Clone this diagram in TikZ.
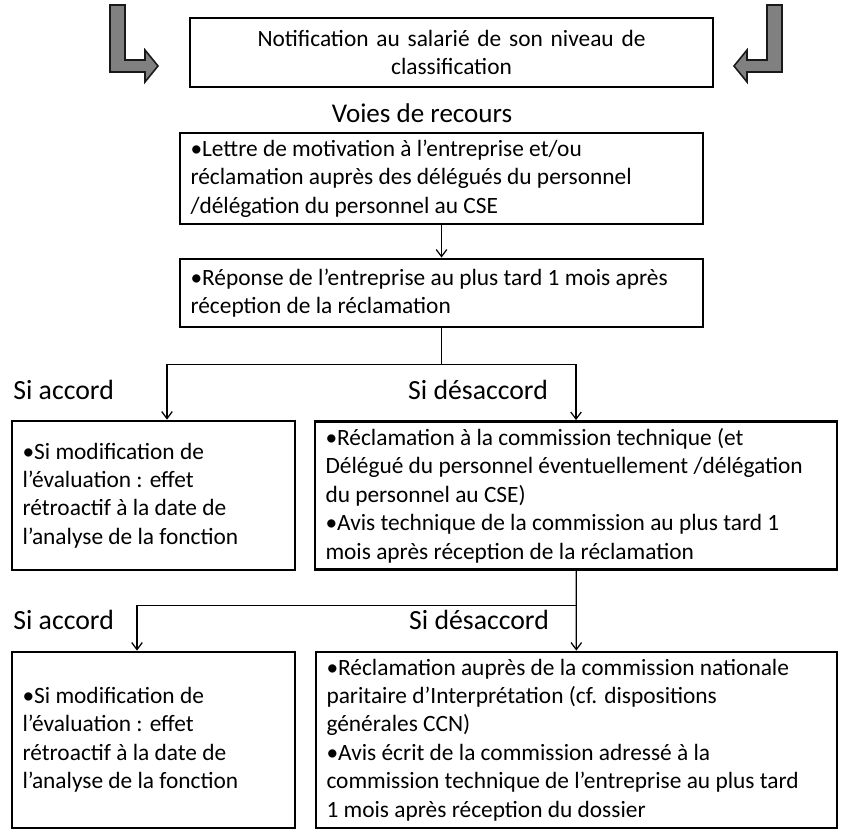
\documentclass[tikz,border=0pt]{standalone}
\usepackage{fontspec}
\setmainfont{Carlito}
\usepackage{tikz}
\usetikzlibrary{arrows.meta, positioning, calc}

\tikzset{
  stepbox/.style={draw, line width=1.6pt, inner xsep=0.21cm, inner ysep=0pt, align=flush left,
    font=\fontsize{13.3}{16.2}\selectfont},
  branch/.style={inner sep=0pt, font=\fontsize{15.8}{18}\selectfont},
  link/.style={line width=0.7pt, -{Straight Barb[length=4pt,width=6pt]}},
  blockarrow/.style={fill=black!50, draw=black!90, line width=0.9pt}
}

\begin{document}
\begin{tikzpicture}
 \useasboundingbox (0,0) rectangle (16.86,-16.64);
 \foreach \X/\S in {2.2/1,15.64/-1}
   \filldraw[blockarrow] (\X,-0.1) -- ++({0.3*\S},0) -- ++(0,-1.1) -- ++({0.4*\S},0) -- ++(0,0.2)
     -- ++({0.26*\S},-0.32) -- ++({-0.26*\S},-0.32) -- ++(0,0.2) -- ++({-0.7*\S},0) -- cycle;
 \node[stepbox, align=center, text width=10.04cm, minimum height=1.38cm] (notif) at (9.03,-1.05)
   {Notification au salarié de son niveau de\\classification};
 \node[branch, font=\fontsize{15.4}{18}\selectfont] (voies) at (8.44,-2.26) {Voies de recours};
 \node[stepbox, text width=10.04cm, minimum height=1.82cm] (lettre) at (8.83,-3.57)
   {•Lettre de motivation  à l’entreprise et/ou\\réclamation auprès des délégués du personnel\\/délégation du personnel au CSE};
 \node[stepbox, text width=10.04cm, minimum height=1.36cm] (reponse) at (8.83,-5.86)
   {•Réponse de l’entreprise au plus tard 1 mois après\\réception de la réclamation};
 \node[stepbox, text width=5.24cm, minimum height=2.98cm] (accordA) at (3.07,-9.91)
   {•Si modification  de\\l’évaluation : effet\\rétroactif à la date de\\l’analyse de la fonction};
 \node[stepbox, text width=10.02cm, minimum height=2.96cm] (desaccordA) at (11.52,-9.91)
   {•Réclamation à la commission  technique (et\\Délégué du personnel éventuellement /délégation\\du personnel au CSE)\\•Avis technique de la commission  au plus tard 1\\mois après réception de la réclamation};
 \node[stepbox, text width=5.24cm, minimum height=3.52cm] (accordB) at (3.07,-14.80)
   {•Si modification  de\\l’évaluation : effet\\rétroactif à la date de\\l’analyse de la fonction};
 \node[stepbox, text width=10.00cm, minimum height=3.52cm] (desaccordB) at (11.53,-14.80)
   {•Réclamation auprès de la commission  nationale\\paritaire d’Interprétation (cf. dispositions\\générales CCN)\\•Avis écrit de la commission  adressé à la\\commission  technique de l’entreprise au plus tard\\1 mois après réception du dossier};
 \node[branch, anchor=west] (oui1) at (0.26,-7.80) {Si accord};
 \node[branch] (non1) at (9.56,-7.80) {Si désaccord};
 \node[branch, anchor=west] (oui2) at (0.26,-12.40) {Si accord};
 \node[branch] (non2) at (9.58,-12.40) {Si désaccord};
 \draw[link] (lettre) -- (reponse);
 \coordinate[below=0.72cm of reponse] (j1);
 \draw[line width=0.7pt] (reponse) -- (j1);
 \draw[link] (j1) -| ([xshift=0.27cm]accordA.north);
 \draw[link] (j1) -| (desaccordA.north);
 \coordinate[below=0.69cm of desaccordA] (j2);
 \draw[link] (desaccordA) -- (desaccordB);
 \draw[link] (j2) -| ([xshift=-0.33cm]accordB.north);
\end{tikzpicture}
\end{document}
